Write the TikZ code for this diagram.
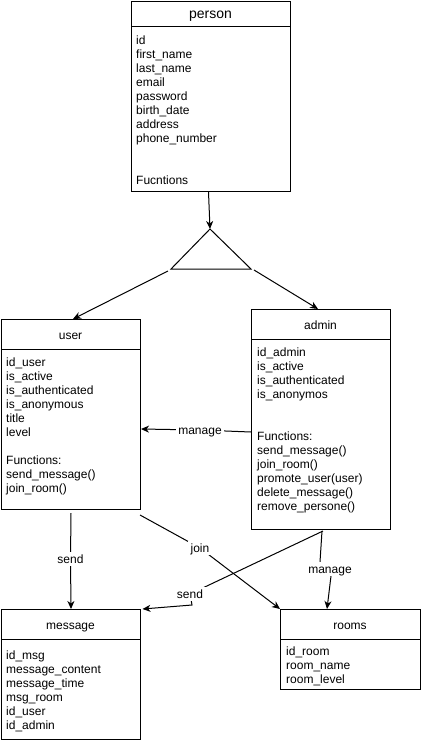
\documentclass[tikz,border=0pt]{standalone}
\usepackage{fontspec}
\setmainfont{Liberation Sans}
\usetikzlibrary{arrows.meta,calc}
\tikzset{
  box/.style={draw, line width=1pt, inner sep=0pt, fill=white},
  sep/.style={line width=1pt},
  attr/.style={font=\fontsize{12}{14}\selectfont, inner sep=0pt, text height=8.5pt, text depth=0.5pt, anchor=west},
  ttl/.style={font=\fontsize{12}{14}\selectfont, inner sep=0pt, text height=8.5pt, text depth=0.5pt},
  bigttl/.style={font=\fontsize{14}{16}\selectfont, inner sep=0pt, text height=10pt, text depth=0.5pt},
  conn/.style={line width=1pt, -{Stealth[length=8pt,width=7pt,inset=2.5pt]}},
  plain/.style={line width=1pt},
  lbl/.style={font=\fontsize{12}{14}\selectfont, fill=white, inner sep=2.5pt, text height=8.5pt, text depth=0.5pt},
}
% #1 name, #2 left, #3 top, #4 right, #5 bottom, #6 divider y
\newcommand{\umlbox}[6]{%
  \node[box, minimum width={#4pt-#2pt}, minimum height={#5pt-#3pt}, anchor=north west] (#1) at (#2,#3) {};
  \draw[sep] (#2,#6) -- (#4,#6);
}
% #1 name prefix, #2 x, #3 first y, #4 list
\newcommand{\attrlist}[4]{%
  \foreach \t [count=\i] in {#4} {\node[attr] (#1-\i) at (#2,{#3+14*(\i-1)}) {\t};}
}
\begin{document}
\begin{tikzpicture}[x=1pt,y=-1pt]
\useasboundingbox (0,0) rectangle (421,740);
\fill[white] (0,0) rectangle (421,740);

% person
\umlbox{person}{131}{1}{290}{191}{26}
\node[bigttl] (person-t) at (210.5,14) {person};
\attrlist{pa}{136}{40}{id,first\_name,last\_name,email,password,birth\_date,address,phone\_number}
\node[attr] (pf) at (136,180) {Fucntions};

% inheritance triangle
\coordinate (tri-top) at (210,229);
\coordinate (tri-l) at (171,269);
\coordinate (tri-r) at (251,269);
\draw[plain] (tri-top) -- (tri-l) -- (tri-r) -- cycle;

% user
\umlbox{user}{1}{319}{140}{509}{349}
\node[ttl] (user-t) at (70.5,335) {user};
\attrlist{ua}{6}{362.5}{id\_user,is\_active,is\_authenticated,is\_anonymous,title,level}
\attrlist{uf}{6}{460.5}{Functions:,send\_message(),join\_room()}

% admin
\umlbox{admin}{251}{309}{390}{529}{339}
\node[ttl] (admin-t) at (320.5,325) {admin};
\attrlist{aa}{257}{352.5}{id\_admin,is\_active,is\_authenticated,is\_anonymos}
\attrlist{af}{257}{436.5}{Functions:,send\_message(),join\_room(),promote\_user(user),delete\_message(),remove\_persone()}

% message
\umlbox{message}{1}{609}{140}{739}{639}
\node[ttl] (message-t) at (70.5,625) {message};
\attrlist{ma}{6}{655}{id\_msg,message\_content,message\_time,msg\_room,id\_user,id\_admin}

% rooms
\umlbox{rooms}{280}{609}{420}{689}{639}
\node[ttl] (rooms-t) at (350,625) {rooms};
\attrlist{ra}{286}{651}{id\_room,room\_name,room\_level}

% connectors
\draw[conn] ($(person.south)+(-2.5,0)$) -- (tri-top);
\draw[conn] ($(tri-l)+(-3,2)$) -- ($(user.north)+(2,0)$);
\draw[conn] ($(tri-r)+(3,1)$) -- ($(admin.north)+(-3,0)$);

% admin manages user
\coordinate (m1) at (200,430);
\draw[conn] (admin.west |- 0,432) -- (m1) -- (user.east |- 0,429);
\node[lbl] (m1-l) at (m1) {manage};

% user sends message
\coordinate (s1) at (70.5,559);
\draw[conn] ($(user.south)+(0,3)$) -- (s1) -- (message.north);
\node[lbl] (s1-l) at (s1) {send};

% user joins rooms
\coordinate (j1) at (200,548);
\draw[conn] ($(user.south east)+(-1,5)$) -- (j1) -- (rooms.north west);
\node[lbl] (j1-l) at (j1) {join};

% admin sends message
\coordinate (s2) at (190,594);
\draw[conn] ($(admin.south west)+(72,1)$) -- (s2) -- (192,605) -- ($(message.north east)+(1.5,0)$);
\node[lbl] (s2-l) at (s2) {send};

% admin manages rooms
\coordinate (m2) at (330,569);
\draw[conn] ($(admin.south west)+(71,1)$) -- (320,562) -- (331,576) -- ($(rooms.north west)+(47,0)$);
\node[lbl] (m2-l) at (m2) {manage};
\end{tikzpicture}
\end{document}
